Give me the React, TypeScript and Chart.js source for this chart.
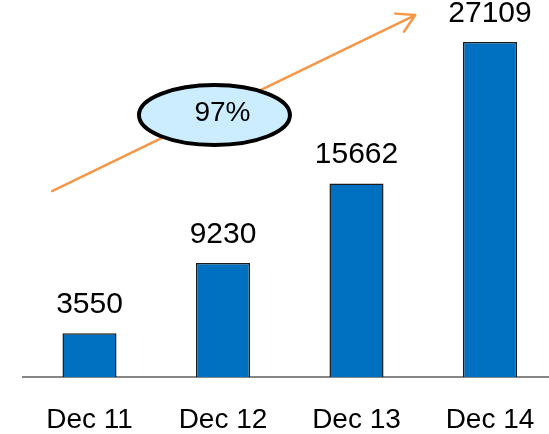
import React, { useEffect, useRef } from "react";
import { Chart, registerables } from "chart.js";

Chart.register(...registerables);

const categories = ["Dec 11", "Dec 12", "Dec 13", "Dec 14"];
const values = [3550, 9230, 15662, 27109];
const growthLabel = "97%";

const FONT = '"Liberation Sans", Arial, sans-serif';

const annotationPlugin = {
  id: "annot",
  afterDatasetsDraw(chart: any) {
    const ctx = chart.ctx;
    const xs = chart.scales.x;
    const ys = chart.scales.y;
    // value labels
    const meta = chart.getDatasetMeta(0);
    ctx.save();
    ctx.fillStyle = "#000";
    ctx.font = `30px ${FONT}`;
    ctx.textAlign = "center";
    ctx.textBaseline = "alphabetic";
    meta.data.forEach((bar: any, i: number) => {
      ctx.fillText(String(values[i]), bar.x, bar.y - 20);
    });
    // arrow
    const x0 = xs.getPixelForValue(-0.28);
    const y0 = ys.getPixelForValue(15050);
    const x1 = xs.getPixelForValue(2.44);
    const y1 = ys.getPixelForValue(29290);
    ctx.strokeStyle = "#F79646";
    ctx.lineWidth = 2.5;
    ctx.lineCap = "round";
    ctx.beginPath();
    ctx.moveTo(x0, y0);
    ctx.lineTo(x1, y1);
    const len = Math.hypot(x1 - x0, y1 - y0);
    const bx = -(x1 - x0) / len;
    const by = -(y1 - y0) / len;
    const hl = 20;
    [Math.PI / 6, -Math.PI / 6].forEach((a) => {
      const rx = bx * Math.cos(a) - by * Math.sin(a);
      const ry = bx * Math.sin(a) + by * Math.cos(a);
      ctx.moveTo(x1, y1);
      ctx.lineTo(x1 + rx * hl, y1 + ry * hl);
    });
    ctx.stroke();
    // ellipse
    const ex = xs.getPixelForValue(0.936);
    const ey = ys.getPixelForValue(21200);
    ctx.beginPath();
    ctx.ellipse(ex, ey, 75.5, 30, 0, 0, Math.PI * 2);
    ctx.fillStyle = "#CCECFF";
    ctx.fill();
    ctx.lineWidth = 4;
    ctx.strokeStyle = "#000";
    ctx.stroke();
    ctx.fillStyle = "#000";
    ctx.font = `28px ${FONT}`;
    ctx.textAlign = "center";
    ctx.textBaseline = "middle";
    ctx.fillText(growthLabel, xs.getPixelForValue(0.996), ys.getPixelForValue(21360));
    ctx.restore();
  },
};

export default function App() {
  const ref = useRef<HTMLCanvasElement>(null);
  useEffect(() => {
    if (!ref.current) return;
    const chart = new Chart(ref.current, {
      type: "bar",
      data: {
        labels: categories,
        datasets: [
          {
            data: values,
            backgroundColor: "#0070C0",
            borderColor: "#1a1a1a",
            borderWidth: 1.5,
            barPercentage: 0.405,
            categoryPercentage: 1,
          },
        ],
      },
      options: {
        responsive: false,
        animation: false,
        layout: { padding: { left: 22.75, right: 9.25, top: 6.3, bottom: -29 } },
        plugins: { legend: { display: false }, tooltip: { enabled: false } },
        scales: {
          x: {
            grid: { display: false, drawTicks: false },
            border: { display: true, color: "#868686", width: 2 },
            ticks: {
              color: "#000",
              padding: 29,
              font: { family: FONT, size: 28, lineHeight: 1 },
            },
          },
          y: { display: false, min: 0, max: 30000 },
        },
      },
      plugins: [annotationPlugin],
    });
    return () => chart.destroy();
  }, []);
  return (
    <div style={{ position: "fixed", left: 0, top: 0, width: 566, height: 434, background: "#fff" }}>
      <canvas ref={ref} width={566} height={434} style={{ display: "block" }} />
    </div>
  );
}
